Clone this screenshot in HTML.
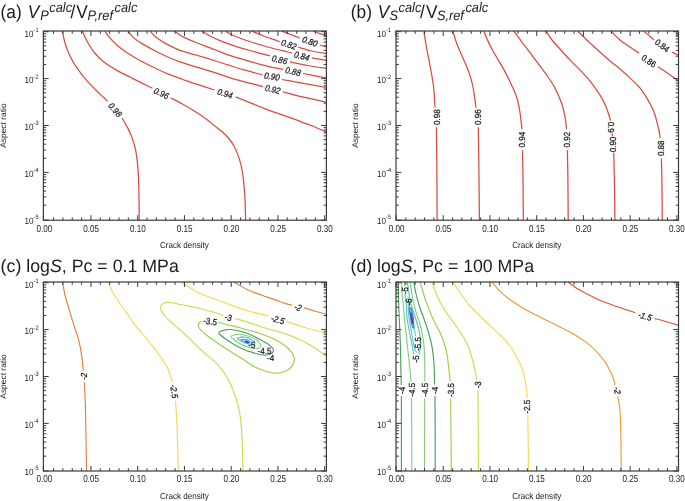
<!DOCTYPE html>
<html><head><meta charset="utf-8"><style>
html,body{margin:0;padding:0;background:#fff;width:685px;height:501px;overflow:hidden}
svg{display:block;will-change:transform}
text{font-family:"Liberation Sans", sans-serif;fill:#1c1c1c;text-rendering:geometricPrecision}
</style></head><body>
<svg width="685" height="501" viewBox="0 0 685 501">
<rect width="685" height="501" fill="#fff"/>
<path d="M62.40,31.20C62.83,33.17 63.73,38.87 65.00,43.00C66.27,47.13 68.02,51.85 70.00,56.00C71.98,60.15 73.92,63.58 76.90,67.90C79.88,72.22 84.07,77.57 87.90,81.90C91.73,86.23 96.62,90.68 99.90,93.90C103.18,97.12 106.32,99.98 107.60,101.20M122.30,118.40C122.98,119.58 125.02,122.92 126.40,125.50C127.78,128.08 129.20,130.42 130.60,133.90C132.00,137.38 133.68,141.87 134.80,146.40C135.92,150.93 136.68,155.85 137.30,161.10C137.92,166.35 138.22,171.60 138.50,177.90C138.78,184.20 138.88,191.85 139.00,198.90C139.12,205.95 139.17,216.65 139.20,220.20" stroke="#d94b40" stroke-width="1.25" fill="none" stroke-linejoin="round" stroke-linecap="butt"/>
<path d="M82.50,31.20C83.23,32.83 85.00,37.53 86.90,41.00C88.80,44.47 91.07,48.50 93.90,52.00C96.73,55.50 99.92,58.85 103.90,62.00C107.88,65.15 113.48,68.40 117.80,70.90C122.12,73.40 125.78,74.97 129.80,77.00C133.82,79.03 138.48,81.38 141.90,83.10C145.32,84.82 148.53,86.43 150.30,87.30C152.07,88.17 152.13,88.13 152.50,88.30M170.50,97.80C172.40,98.80 178.00,101.63 181.90,103.80C185.80,105.97 189.90,108.30 193.90,110.80C197.90,113.30 202.25,116.13 205.90,118.80C209.55,121.47 213.15,124.68 215.80,126.80C218.45,128.92 219.77,129.72 221.80,131.50C223.83,133.28 225.97,135.08 228.00,137.50C230.03,139.92 232.17,142.60 234.00,146.00C235.83,149.40 237.60,153.58 239.00,157.90C240.40,162.22 241.53,166.90 242.40,171.90C243.27,176.90 243.75,182.92 244.20,187.90C244.65,192.88 244.87,196.42 245.10,201.80C245.33,207.18 245.52,217.13 245.60,220.20" stroke="#d94b40" stroke-width="1.25" fill="none" stroke-linejoin="round" stroke-linecap="butt"/>
<path d="M104.80,31.20C105.60,32.27 107.40,35.13 109.60,37.60C111.80,40.07 115.02,43.42 118.00,46.00C120.98,48.58 123.92,50.72 127.50,53.10C131.08,55.48 135.10,57.90 139.50,60.30C143.90,62.70 149.10,65.20 153.90,67.50C158.70,69.80 163.95,72.30 168.30,74.10C172.65,75.90 177.07,77.22 180.00,78.30C182.93,79.38 182.25,79.33 185.90,80.60C189.55,81.87 197.13,84.33 201.90,85.90C206.67,87.47 212.40,89.32 214.50,90.00M235.60,96.90C237.67,97.73 242.62,99.75 248.00,101.90C253.38,104.05 261.25,107.32 267.90,109.80C274.55,112.28 281.92,114.63 287.90,116.80C293.88,118.97 299.48,121.18 303.80,122.80C308.12,124.42 310.47,125.13 313.80,126.50C317.13,127.87 321.70,130.05 323.80,131.00C325.90,131.95 325.97,132.00 326.40,132.20" stroke="#d94b40" stroke-width="1.25" fill="none" stroke-linejoin="round" stroke-linecap="butt"/>
<path d="M128.10,31.20C129.00,32.27 131.20,35.53 133.50,37.60C135.80,39.67 138.50,41.50 141.90,43.60C145.30,45.70 149.70,48.02 153.90,50.20C158.10,52.38 162.75,54.77 167.10,56.70C171.45,58.63 175.20,60.10 180.00,61.80C184.80,63.50 189.93,65.05 195.90,66.90C201.87,68.75 210.45,71.18 215.80,72.90C221.15,74.62 223.97,75.90 228.00,77.20C232.03,78.50 236.00,79.62 240.00,80.70C244.00,81.78 248.17,82.72 252.00,83.70C255.83,84.68 261.17,86.12 263.00,86.60M282.90,91.90C285.40,92.57 293.08,94.73 297.90,95.90C302.72,97.07 307.05,97.83 311.80,98.90C316.55,99.97 323.97,101.73 326.40,102.30" stroke="#d94b40" stroke-width="1.25" fill="none" stroke-linejoin="round" stroke-linecap="butt"/>
<path d="M150.30,31.20C151.30,32.27 153.70,35.53 156.30,37.60C158.90,39.67 161.95,41.48 165.90,43.60C169.85,45.72 175.00,48.40 180.00,50.30C185.00,52.20 189.93,53.22 195.90,55.00C201.87,56.78 210.45,59.35 215.80,61.00C221.15,62.65 223.30,63.42 228.00,64.90C232.70,66.38 238.25,68.23 244.00,69.90C249.75,71.57 259.42,74.07 262.50,74.90M281.90,79.50C284.57,79.97 292.92,81.40 297.90,82.30C302.88,83.20 307.05,84.03 311.80,84.90C316.55,85.77 323.97,87.07 326.40,87.50" stroke="#d94b40" stroke-width="1.25" fill="none" stroke-linejoin="round" stroke-linecap="butt"/>
<path d="M174.90,31.20C175.75,31.87 178.50,34.18 180.00,35.20C181.50,36.22 181.25,36.08 183.90,37.30C186.55,38.52 190.58,40.38 195.90,42.50C201.22,44.62 210.45,47.93 215.80,50.00C221.15,52.07 222.63,53.08 228.00,54.90C233.37,56.72 241.35,59.00 248.00,60.90C254.65,62.80 262.03,64.90 267.90,66.30C273.77,67.70 280.65,68.80 283.20,69.30M303.00,73.50C304.80,73.85 309.90,74.87 313.80,75.60C317.70,76.33 324.30,77.52 326.40,77.90" stroke="#d94b40" stroke-width="1.25" fill="none" stroke-linejoin="round" stroke-linecap="butt"/>
<path d="M201.90,31.20C203.23,32.00 206.58,34.32 209.90,36.00C213.22,37.68 217.48,39.58 221.80,41.30C226.12,43.02 231.43,44.85 235.80,46.30C240.17,47.75 243.97,48.83 248.00,50.00C252.03,51.17 256.33,52.33 260.00,53.30C263.67,54.27 268.33,55.38 270.00,55.80M289.90,61.90C292.88,62.50 301.72,64.40 307.80,65.50C313.88,66.60 323.30,68.00 326.40,68.50" stroke="#d94b40" stroke-width="1.25" fill="none" stroke-linejoin="round" stroke-linecap="butt"/>
<path d="M225.80,31.20C226.17,31.43 226.33,31.72 228.00,32.60C229.67,33.48 232.47,35.10 235.80,36.50C239.13,37.90 242.65,39.25 248.00,41.00C253.35,42.75 261.25,45.17 267.90,47.00C274.55,48.83 283.88,51.00 287.90,52.00C291.92,53.00 291.32,52.83 292.00,53.00M311.80,57.90L326.40,60.30" stroke="#d94b40" stroke-width="1.25" fill="none" stroke-linejoin="round" stroke-linecap="butt"/>
<path d="M252.00,31.20C253.98,32.00 259.58,34.37 263.90,36.00C268.22,37.63 275.22,40.03 277.90,41.00C280.58,41.97 279.65,41.67 280.00,41.80M297.90,47.00C300.22,47.67 307.05,49.92 311.80,51.00C316.55,52.08 323.97,53.08 326.40,53.50" stroke="#d94b40" stroke-width="1.25" fill="none" stroke-linejoin="round" stroke-linecap="butt"/>
<path d="M281.90,31.20C283.57,31.83 288.88,33.87 291.90,35.00C294.92,36.13 298.65,37.50 300.00,38.00M319.80,45.00L326.40,47.00" stroke="#d94b40" stroke-width="1.25" fill="none" stroke-linejoin="round" stroke-linecap="butt"/>
<path d="M313.80,31.20C314.83,31.60 317.90,32.80 320.00,33.60C322.10,34.40 325.33,35.60 326.40,36.00" stroke="#d94b40" stroke-width="1.25" fill="none" stroke-linejoin="round" stroke-linecap="butt"/>
<path d="M423.90,31.20C424.23,33.33 425.07,39.22 425.90,44.00C426.73,48.78 427.90,54.58 428.90,59.90C429.90,65.22 431.07,70.90 431.90,75.90C432.73,80.90 433.40,84.92 433.90,89.90C434.40,94.88 434.68,102.90 434.90,105.80C435.12,108.70 435.15,107.05 435.20,107.30M436.40,127.30C436.47,132.75 436.68,144.52 436.80,160.00C436.92,175.48 437.05,210.17 437.10,220.20" stroke="#d94b40" stroke-width="1.25" fill="none" stroke-linejoin="round" stroke-linecap="butt"/>
<path d="M452.90,31.20C453.57,33.33 455.23,39.55 456.90,44.00C458.57,48.45 460.92,53.25 462.90,57.90C464.88,62.55 467.15,67.23 468.80,71.90C470.45,76.57 471.63,80.25 472.80,85.90C473.97,91.55 475.25,102.23 475.80,105.80C476.35,109.37 476.05,107.05 476.10,107.30M478.30,127.30C478.38,132.75 478.62,144.52 478.80,160.00C478.98,175.48 479.30,210.17 479.40,220.20" stroke="#d94b40" stroke-width="1.25" fill="none" stroke-linejoin="round" stroke-linecap="butt"/>
<path d="M483.80,31.20C484.33,32.50 485.47,35.70 487.00,39.00C488.53,42.30 490.17,45.85 493.00,51.00C495.83,56.15 500.83,64.08 504.00,69.90C507.17,75.72 509.85,81.23 512.00,85.90C514.15,90.57 515.58,93.58 516.90,97.90C518.22,102.22 519.13,107.28 519.90,111.80C520.67,116.32 521.17,122.10 521.50,125.00C521.83,127.90 521.83,128.50 521.90,129.20M522.50,149.90C522.58,154.92 522.87,168.28 523.00,180.00C523.13,191.72 523.25,213.50 523.30,220.20" stroke="#d94b40" stroke-width="1.25" fill="none" stroke-linejoin="round" stroke-linecap="butt"/>
<path d="M513.90,31.20C515.23,33.00 518.57,37.55 521.90,42.00C525.23,46.45 529.90,52.58 533.90,57.90C537.90,63.22 542.40,68.90 545.90,73.90C549.40,78.90 552.25,82.92 554.90,87.90C557.55,92.88 560.15,99.15 561.80,103.80C563.45,108.45 564.13,112.77 564.80,115.80C565.47,118.83 565.52,119.77 565.80,122.00C566.08,124.23 566.38,128.00 566.50,129.20M567.40,149.90C567.48,154.92 567.77,168.28 567.90,180.00C568.03,191.72 568.15,213.50 568.20,220.20" stroke="#d94b40" stroke-width="1.25" fill="none" stroke-linejoin="round" stroke-linecap="butt"/>
<path d="M546.00,31.20C547.00,32.67 549.67,37.03 552.00,40.00C554.33,42.97 557.02,45.68 560.00,49.00C562.98,52.32 566.58,56.42 569.90,59.90C573.22,63.38 576.57,66.40 579.90,69.90C583.23,73.40 586.90,77.23 589.90,80.90C592.90,84.57 595.57,88.40 597.90,91.90C600.23,95.40 602.23,98.58 603.90,101.90C605.57,105.22 606.90,109.03 607.90,111.80C608.90,114.57 609.50,117.03 609.90,118.50C610.30,119.97 610.23,120.25 610.30,120.60M612.20,133.30L612.50,136.40M613.70,152.50C613.78,155.42 614.03,162.08 614.20,170.00C614.37,177.92 614.58,191.63 614.70,200.00C614.82,208.37 614.87,216.83 614.90,220.20" stroke="#d94b40" stroke-width="1.25" fill="none" stroke-linejoin="round" stroke-linecap="butt"/>
<path d="M577.90,31.20C579.57,32.83 584.23,37.53 587.90,41.00C591.57,44.47 596.22,48.68 599.90,52.00C603.58,55.32 606.65,58.08 610.00,60.90C613.35,63.72 616.68,66.07 620.00,68.90C623.32,71.73 626.58,74.73 629.90,77.90C633.22,81.07 636.90,84.23 639.90,87.90C642.90,91.57 645.57,95.92 647.90,99.90C650.23,103.88 652.23,107.48 653.90,111.80C655.57,116.12 656.95,122.10 657.90,125.80C658.85,129.50 659.23,131.93 659.60,134.00C659.97,136.07 660.02,137.50 660.10,138.20M661.40,158.60C661.48,162.17 661.75,169.73 661.90,180.00C662.05,190.27 662.23,213.50 662.30,220.20" stroke="#d94b40" stroke-width="1.25" fill="none" stroke-linejoin="round" stroke-linecap="butt"/>
<path d="M611.00,31.20C612.50,32.67 616.85,37.37 620.00,40.00C623.15,42.63 626.75,44.83 629.90,47.00C633.05,49.17 637.40,52.00 638.90,53.00M657.90,66.90C659.23,67.73 662.92,69.90 665.90,71.90C668.88,73.90 673.70,77.45 675.80,78.90C677.90,80.35 678.05,80.32 678.50,80.60" stroke="#d94b40" stroke-width="1.25" fill="none" stroke-linejoin="round" stroke-linecap="butt"/>
<path d="M643.90,31.20C645.40,32.50 651.22,37.53 652.90,39.00C654.58,40.47 653.82,39.83 654.00,40.00M671.90,52.00C672.72,52.42 675.70,53.92 676.80,54.50C677.90,55.08 678.22,55.33 678.50,55.50" stroke="#d94b40" stroke-width="1.25" fill="none" stroke-linejoin="round" stroke-linecap="butt"/>
<path d="M62.60,282.20C63.00,284.33 63.95,290.55 65.00,295.00C66.05,299.45 67.42,303.92 68.90,308.90C70.38,313.88 72.23,319.57 73.90,324.90C75.57,330.23 77.57,335.58 78.90,340.90C80.23,346.22 81.18,351.85 81.90,356.80C82.62,361.75 82.98,368.30 83.20,370.60M84.30,382.00C84.47,385.50 85.03,394.52 85.30,403.00C85.57,411.48 85.70,421.57 85.90,432.90C86.10,444.23 86.40,464.65 86.50,471.00" stroke="#ea7d3a" stroke-width="1.15" fill="none" stroke-linejoin="round" stroke-linecap="butt"/>
<path d="M234.00,282.20C235.00,282.75 237.68,284.20 240.00,285.50C242.32,286.80 244.23,288.38 247.90,290.00C251.57,291.62 257.65,293.63 262.00,295.20C266.35,296.77 270.02,298.00 274.00,299.40C277.98,300.80 282.92,302.67 285.90,303.60C288.88,304.53 290.90,304.77 291.90,305.00M303.90,307.90C305.50,308.37 309.75,309.63 313.50,310.70C317.25,311.77 324.25,313.70 326.40,314.30" stroke="#ea7d3a" stroke-width="1.15" fill="none" stroke-linejoin="round" stroke-linecap="butt"/>
<path d="M108.90,282.20C109.40,283.67 110.08,287.50 111.90,291.00C113.72,294.50 116.82,298.78 119.80,303.20C122.78,307.62 127.43,314.05 129.80,317.50C132.17,320.95 131.63,320.90 134.00,323.90C136.37,326.90 140.67,331.50 144.00,335.50C147.33,339.50 151.02,344.02 154.00,347.90C156.98,351.78 159.58,355.32 161.90,358.80C164.22,362.28 166.18,364.98 167.90,368.80C169.62,372.62 171.48,379.55 172.20,381.70M175.50,400.60C175.73,404.32 176.50,414.20 176.90,422.90C177.30,431.60 177.67,444.78 177.90,452.80C178.13,460.82 178.23,467.97 178.30,471.00" stroke="#f2da56" stroke-width="1.15" fill="none" stroke-linejoin="round" stroke-linecap="butt"/>
<path d="M181.90,282.20C183.90,283.53 190.88,288.32 193.90,290.20C196.92,292.08 196.98,292.20 200.00,293.50C203.02,294.80 208.00,296.50 212.00,298.00C216.00,299.50 220.02,301.02 224.00,302.50C227.98,303.98 231.92,305.52 235.90,306.90C239.88,308.28 243.90,309.63 247.90,310.80C251.90,311.97 256.47,313.03 259.90,313.90C263.33,314.77 267.07,315.65 268.50,316.00M286.50,321.50C288.75,322.25 296.08,324.75 300.00,326.00C303.92,327.25 306.02,327.92 310.00,329.00C313.98,330.08 321.17,331.80 323.90,332.50C326.63,333.20 325.98,333.08 326.40,333.20" stroke="#f2da56" stroke-width="1.15" fill="none" stroke-linejoin="round" stroke-linecap="butt"/>
<path d="M223.00,315.20C221.65,314.75 217.90,313.42 214.90,312.50C211.90,311.58 208.32,310.57 205.00,309.70C201.68,308.83 198.33,308.03 195.00,307.30C191.67,306.57 188.00,305.90 185.00,305.30C182.00,304.70 179.50,304.17 177.00,303.70C174.50,303.23 172.17,302.62 170.00,302.50C167.83,302.38 165.50,302.42 164.00,303.00C162.50,303.58 161.50,304.83 161.00,306.00C160.50,307.17 160.50,308.50 161.00,310.00C161.50,311.50 162.50,313.17 164.00,315.00C165.50,316.83 167.68,318.83 170.00,321.00C172.32,323.17 175.25,325.67 177.90,328.00C180.55,330.33 183.07,332.35 185.90,335.00C188.73,337.65 191.72,340.82 194.90,343.90C198.08,346.98 201.65,350.50 205.00,353.50C208.35,356.50 212.17,359.17 215.00,361.90C217.83,364.63 219.83,367.00 222.00,369.90C224.17,372.80 226.08,375.73 228.00,379.30C229.92,382.87 231.85,387.10 233.50,391.30C235.15,395.50 236.70,399.73 237.90,404.50C239.10,409.27 240.02,414.42 240.70,419.90C241.38,425.38 241.67,431.18 242.00,437.40C242.33,443.62 242.55,451.60 242.70,457.20C242.85,462.80 242.87,468.70 242.90,471.00M234.70,318.50C236.90,319.10 243.68,320.77 247.90,322.10C252.12,323.43 255.65,325.10 260.00,326.50C264.35,327.90 269.83,329.28 274.00,330.50C278.17,331.72 282.33,332.98 285.00,333.80C287.67,334.62 287.50,334.40 290.00,335.40C292.50,336.40 296.67,338.20 300.00,339.80C303.33,341.40 307.02,343.30 310.00,345.00C312.98,346.70 315.58,348.43 317.90,350.00C320.22,351.57 322.48,353.32 323.90,354.40C325.32,355.48 325.98,356.15 326.40,356.50" stroke="#c6df4c" stroke-width="1.15" fill="none" stroke-linejoin="round" stroke-linecap="butt"/>
<path d="M218.00,322.30C219.67,322.72 224.50,323.93 228.00,324.80C231.50,325.67 235.33,326.55 239.00,327.50C242.67,328.45 246.50,329.50 250.00,330.50C253.50,331.50 256.67,332.37 260.00,333.50C263.33,334.63 266.68,335.85 270.00,337.30C273.32,338.75 276.92,340.42 279.90,342.20C282.88,343.98 285.78,346.03 287.90,348.00C290.02,349.97 291.52,352.17 292.60,354.00C293.68,355.83 294.35,357.18 294.40,359.00C294.45,360.82 293.98,363.08 292.90,364.90C291.82,366.72 290.05,368.60 287.90,369.90C285.75,371.20 282.48,372.18 280.00,372.70C277.52,373.22 275.50,373.28 273.00,373.00C270.50,372.72 268.00,372.00 265.00,371.00C262.00,370.00 258.35,368.75 255.00,367.00C251.65,365.25 248.25,362.62 244.90,360.50C241.55,358.38 238.22,356.38 234.90,354.30C231.58,352.22 228.32,350.18 225.00,348.00C221.68,345.82 218.33,343.53 215.00,341.20C211.67,338.87 207.58,336.12 205.00,334.00C202.42,331.88 200.58,330.17 199.50,328.50C198.42,326.83 198.17,325.20 198.50,324.00C198.83,322.80 201.00,321.75 201.50,321.30" stroke="#9cd040" stroke-width="1.15" fill="none" stroke-linejoin="round" stroke-linecap="butt"/>
<path d="M219.30,332.00C220.13,331.25 223.22,330.42 225.00,330.00C226.78,329.58 227.62,329.33 230.00,329.50C232.38,329.67 235.97,330.17 239.30,331.00C242.63,331.83 246.55,333.08 250.00,334.50C253.45,335.92 257.00,337.92 260.00,339.50C263.00,341.08 265.92,342.58 268.00,344.00C270.08,345.42 271.58,346.93 272.50,348.00C273.42,349.07 273.67,349.48 273.50,350.40C273.33,351.32 272.92,352.70 271.50,353.50C270.08,354.30 267.75,355.23 265.00,355.20C262.25,355.17 257.72,353.97 255.00,353.30C252.28,352.63 250.38,351.75 248.70,351.20C247.02,350.65 247.20,351.03 244.90,350.00C242.60,348.97 238.22,346.92 234.90,345.00C231.58,343.08 227.48,340.25 225.00,338.50C222.52,336.75 220.95,335.58 220.00,334.50C219.05,333.42 218.47,332.75 219.30,332.00Z" stroke="#47a060" stroke-width="1.15" fill="none" stroke-linejoin="round" stroke-linecap="butt"/>
<path d="M231.00,336.40C231.05,335.50 233.62,335.15 235.00,334.80C236.38,334.45 237.02,334.07 239.30,334.30C241.58,334.53 246.08,335.42 248.70,336.20C251.32,336.98 253.37,338.07 255.00,339.00C256.63,339.93 257.48,340.63 258.50,341.80C259.52,342.97 261.18,344.88 261.10,346.00C261.02,347.12 259.28,348.10 258.00,348.50C256.72,348.90 255.73,348.88 253.40,348.40C251.07,347.92 247.12,346.97 244.00,345.60C240.88,344.23 236.87,341.73 234.70,340.20C232.53,338.67 230.95,337.30 231.00,336.40Z" stroke="#84d07c" stroke-width="1.15" fill="none" stroke-linejoin="round" stroke-linecap="butt"/>
<path d="M237.50,338.30C237.38,337.62 239.92,337.40 241.00,337.20C242.08,337.00 242.83,336.97 244.00,337.10C245.17,337.23 246.83,337.60 248.00,338.00C249.17,338.40 250.00,338.92 251.00,339.50C252.00,340.08 253.37,340.80 254.00,341.50C254.63,342.20 255.22,343.18 254.80,343.70C254.38,344.22 252.52,344.53 251.50,344.60C250.48,344.67 250.33,344.65 248.70,344.10C247.07,343.55 243.57,342.27 241.70,341.30C239.83,340.33 237.62,338.98 237.50,338.30Z" stroke="#66cce0" stroke-width="1.38" fill="none" stroke-linejoin="round" stroke-linecap="butt"/>
<path d="M240.60,340.00C240.52,339.58 242.02,339.35 243.00,339.30C243.98,339.25 245.42,339.40 246.50,339.70C247.58,340.00 248.90,340.58 249.50,341.10C250.10,341.62 250.43,342.47 250.10,342.80C249.77,343.13 248.60,343.27 247.50,343.10C246.40,342.93 244.65,342.32 243.50,341.80C242.35,341.28 240.68,340.42 240.60,340.00Z" stroke="#4f86e0" stroke-width="1.00" fill="#b8d4f4" stroke-linejoin="round" stroke-linecap="butt"/>
<path d="M245.40,341.10C245.58,340.88 246.73,341.05 247.30,341.20C247.87,341.35 248.65,341.73 248.80,342.00C248.95,342.27 248.63,342.72 248.20,342.80C247.77,342.88 246.67,342.78 246.20,342.50C245.73,342.22 245.22,341.32 245.40,341.10Z" stroke="#2a44c0" stroke-width="0.75" fill="#2a44c0" stroke-linejoin="round" stroke-linecap="butt"/>
<path d="M568.30,282.20C570.05,283.43 575.58,287.60 578.80,289.60C582.02,291.60 584.73,292.73 587.60,294.20C590.47,295.67 593.08,297.05 596.00,298.40C598.92,299.75 601.93,301.03 605.10,302.30C608.27,303.57 611.53,304.78 615.00,306.00C618.47,307.22 622.50,308.48 625.90,309.60C629.30,310.72 633.82,312.18 635.40,312.70M654.60,318.50C656.60,319.03 662.62,320.57 666.60,321.70C670.58,322.83 676.52,324.70 678.50,325.30" stroke="#e2552e" stroke-width="1.15" fill="none" stroke-linejoin="round" stroke-linecap="butt"/>
<path d="M492.30,282.20C493.17,283.27 495.75,286.65 497.50,288.60C499.25,290.55 501.05,292.28 502.80,293.90C504.55,295.52 505.97,296.77 508.00,298.30C510.03,299.83 512.67,301.57 515.00,303.10C517.33,304.63 519.67,306.12 522.00,307.50C524.33,308.88 526.83,310.23 529.00,311.40C531.17,312.57 532.53,313.25 535.00,314.50C537.47,315.75 540.88,317.43 543.80,318.90C546.72,320.37 549.58,321.83 552.50,323.30C555.42,324.77 558.38,326.25 561.30,327.70C564.22,329.15 567.08,330.40 570.00,332.00C572.92,333.60 575.87,335.40 578.80,337.30C581.73,339.20 584.68,341.07 587.60,343.40C590.52,345.73 593.38,348.23 596.30,351.30C599.22,354.37 602.90,358.68 605.10,361.80C607.30,364.92 608.23,367.55 609.50,370.00C610.77,372.45 611.75,374.00 612.70,376.50C613.65,379.00 614.78,383.58 615.20,385.00M617.90,396.50C618.22,398.50 619.33,403.35 619.80,408.50C620.27,413.65 620.45,416.98 620.70,427.40C620.95,437.82 621.20,463.73 621.30,471.00" stroke="#f09a34" stroke-width="1.15" fill="none" stroke-linejoin="round" stroke-linecap="butt"/>
<path d="M453.00,282.20C454.17,283.92 457.18,288.53 460.00,292.50C462.82,296.47 465.98,301.50 469.90,306.00C473.82,310.50 478.82,315.00 483.50,319.50C488.18,324.00 493.83,328.92 498.00,333.00C502.17,337.08 505.42,340.08 508.50,344.00C511.58,347.92 514.33,352.67 516.50,356.50C518.67,360.33 520.15,363.42 521.50,367.00C522.85,370.58 523.75,374.18 524.60,378.00C525.45,381.82 526.15,386.57 526.60,389.90C527.05,393.23 527.18,396.65 527.30,398.00M527.80,415.30C527.87,419.42 528.10,430.72 528.20,440.00C528.30,449.28 528.37,465.83 528.40,471.00" stroke="#f2da56" stroke-width="1.15" fill="none" stroke-linejoin="round" stroke-linecap="butt"/>
<path d="M432.50,282.20C432.65,282.83 432.62,283.70 433.40,286.00C434.18,288.30 435.73,292.67 437.20,296.00C438.67,299.33 440.40,302.83 442.20,306.00C444.00,309.17 446.03,312.17 448.00,315.00C449.97,317.83 452.08,320.33 454.00,323.00C455.92,325.67 457.83,328.50 459.50,331.00C461.17,333.50 462.67,335.67 464.00,338.00C465.33,340.33 466.47,342.67 467.50,345.00C468.53,347.33 469.37,349.50 470.20,352.00C471.03,354.50 471.78,357.33 472.50,360.00C473.22,362.67 473.92,365.50 474.50,368.00C475.08,370.50 475.62,373.08 476.00,375.00C476.38,376.92 476.67,378.75 476.80,379.50M477.90,390.50C477.97,398.75 478.20,426.58 478.30,440.00C478.40,453.42 478.47,465.83 478.50,471.00" stroke="#c6df4c" stroke-width="1.15" fill="none" stroke-linejoin="round" stroke-linecap="butt"/>
<path d="M420.30,282.20C420.75,283.83 422.05,288.75 423.00,292.00C423.95,295.25 425.20,299.37 426.00,301.70C426.80,304.03 426.87,303.62 427.80,306.00C428.73,308.38 430.12,312.67 431.60,316.00C433.08,319.33 435.05,322.67 436.70,326.00C438.35,329.33 440.12,332.67 441.50,336.00C442.88,339.33 444.03,342.67 445.00,346.00C445.97,349.33 446.72,352.67 447.30,356.00C447.88,359.33 448.02,361.75 448.50,366.00C448.98,370.25 449.92,378.92 450.20,381.50M450.60,398.50C450.68,405.92 451.00,430.92 451.10,443.00C451.20,455.08 451.18,466.33 451.20,471.00" stroke="#9cd040" stroke-width="1.15" fill="none" stroke-linejoin="round" stroke-linecap="butt"/>
<path d="M413.80,282.20C414.13,284.00 415.08,289.75 415.80,293.00C416.52,296.25 417.50,299.53 418.10,301.70C418.70,303.87 418.60,303.62 419.40,306.00C420.20,308.38 421.72,312.67 422.90,316.00C424.08,319.33 425.40,322.67 426.50,326.00C427.60,329.33 428.60,332.67 429.50,336.00C430.40,339.33 431.27,342.67 431.90,346.00C432.53,349.33 432.93,352.67 433.30,356.00C433.67,359.33 433.88,361.25 434.10,366.00C434.32,370.75 434.52,381.42 434.60,384.50M435.00,396.00C435.03,403.83 435.17,430.50 435.20,443.00C435.23,455.50 435.20,466.33 435.20,471.00" stroke="#47a060" stroke-width="1.15" fill="none" stroke-linejoin="round" stroke-linecap="butt"/>
<path d="M410.30,282.20C410.62,284.50 411.53,292.03 412.20,296.00C412.87,299.97 413.45,302.67 414.30,306.00C415.15,309.33 416.27,312.67 417.30,316.00C418.33,319.33 419.62,322.67 420.50,326.00C421.38,329.33 422.02,332.67 422.60,336.00C423.18,339.33 423.65,342.00 424.00,346.00C424.35,350.00 424.57,354.08 424.70,360.00C424.83,365.92 424.78,377.92 424.80,381.50M424.70,398.00C424.67,405.50 424.53,430.83 424.50,443.00C424.47,455.17 424.50,466.33 424.50,471.00" stroke="#84d07c" stroke-width="1.15" fill="none" stroke-linejoin="round" stroke-linecap="butt"/>
<path d="M398.30,282.20C398.33,285.17 398.35,294.37 398.50,300.00C398.65,305.63 399.02,311.67 399.20,316.00C399.38,320.33 399.40,321.00 399.60,326.00C399.80,331.00 400.20,339.33 400.40,346.00C400.60,352.67 400.65,359.50 400.80,366.00C400.95,372.50 401.22,381.83 401.30,385.00M401.40,396.00C401.40,403.83 401.40,430.50 401.40,443.00C401.40,455.50 401.40,466.33 401.40,471.00" stroke="#47a060" stroke-width="1.15" fill="none" stroke-linejoin="round" stroke-linecap="butt"/>
<path d="M401.50,282.20C401.63,284.50 401.98,292.03 402.30,296.00C402.62,299.97 403.08,302.67 403.40,306.00C403.72,309.33 403.90,312.67 404.20,316.00C404.50,319.33 404.67,321.00 405.20,326.00C405.73,331.00 406.67,339.33 407.40,346.00C408.13,352.67 409.00,360.08 409.60,366.00C410.20,371.92 410.77,378.92 411.00,381.50M411.50,398.00C411.55,405.50 411.75,430.83 411.80,443.00C411.85,455.17 411.80,466.33 411.80,471.00" stroke="#84d07c" stroke-width="1.15" fill="none" stroke-linejoin="round" stroke-linecap="butt"/>
<path d="M404.60,282.20L404.70,286.30M405.00,294.20C405.25,296.17 406.20,302.37 406.50,306.00C406.80,309.63 406.50,312.67 406.80,316.00C407.10,319.33 407.73,322.67 408.30,326.00C408.87,329.33 409.53,332.67 410.20,336.00C410.87,339.33 411.73,342.92 412.30,346.00C412.87,349.08 413.38,353.08 413.60,354.50M418.90,354.50C419.18,352.92 420.45,348.25 420.60,345.00C420.75,341.75 420.27,338.17 419.80,335.00C419.33,331.83 418.62,329.17 417.80,326.00C416.98,322.83 415.95,319.33 414.90,316.00C413.85,312.67 412.42,309.33 411.50,306.00C410.58,302.67 410.08,299.97 409.40,296.00C408.72,292.03 407.73,284.50 407.40,282.20" stroke="#6cc8b4" stroke-width="1.25" fill="none" stroke-linejoin="round" stroke-linecap="butt"/>
<path d="M415.50,336.00C415.22,334.33 414.52,329.33 413.80,326.00C413.08,322.67 411.97,319.33 411.20,316.00C410.43,312.67 409.70,308.83 409.20,306.00C408.70,303.17 408.43,300.58 408.20,299.00C407.97,297.42 407.87,296.92 407.80,296.50M408.20,304.50C408.30,306.42 408.43,312.42 408.80,316.00C409.17,319.58 409.87,322.67 410.40,326.00C410.93,329.33 411.47,333.00 412.00,336.00C412.53,339.00 413.05,341.58 413.60,344.00C414.15,346.42 414.70,349.08 415.30,350.50C415.90,351.92 416.88,352.17 417.20,352.50" stroke="#66cce0" stroke-width="1.25" fill="none" stroke-linejoin="round" stroke-linecap="butt"/>
<path d="M409.40,309.00C409.42,307.58 409.93,307.42 410.30,307.50C410.67,307.58 411.15,308.08 411.60,309.50C412.05,310.92 412.63,313.58 413.00,316.00C413.37,318.42 413.70,322.00 413.80,324.00C413.90,326.00 413.80,327.42 413.60,328.00C413.40,328.58 412.97,328.33 412.60,327.50C412.23,326.67 411.80,324.92 411.40,323.00C411.00,321.08 410.53,318.33 410.20,316.00C409.87,313.67 409.38,310.42 409.40,309.00Z" stroke="#3d6ad6" stroke-width="1.00" fill="#8fb4ec" stroke-linejoin="round" stroke-linecap="butt"/>
<path d="M410.80,313.00C410.82,312.08 411.15,312.67 411.40,313.50C411.65,314.33 412.10,316.42 412.30,318.00C412.50,319.58 412.63,322.08 412.60,323.00C412.57,323.92 412.32,324.17 412.10,323.50C411.88,322.83 411.52,320.75 411.30,319.00C411.08,317.25 410.78,313.92 410.80,313.00Z" stroke="#2c48c4" stroke-width="0.75" fill="#2c48c4" stroke-linejoin="round" stroke-linecap="butt"/>
<text transform="translate(115.20,109.80) rotate(49) scale(1,1.1)" y="2.88" text-anchor="middle" font-size="8" font-style="italic" fill="#111" stroke="#111" stroke-width="0.22">0.98</text>
<text transform="translate(161.40,93.20) rotate(26) scale(1,1.1)" y="2.88" text-anchor="middle" font-size="8" font-style="italic" fill="#111" stroke="#111" stroke-width="0.22">0.96</text>
<text transform="translate(225.00,93.40) rotate(17) scale(1,1.1)" y="2.88" text-anchor="middle" font-size="8" font-style="italic" fill="#111" stroke="#111" stroke-width="0.22">0.94</text>
<text transform="translate(272.90,89.20) rotate(14) scale(1,1.1)" y="2.88" text-anchor="middle" font-size="8" font-style="italic" fill="#111" stroke="#111" stroke-width="0.22">0.92</text>
<text transform="translate(271.90,76.40) rotate(10) scale(1,1.1)" y="2.88" text-anchor="middle" font-size="8" font-style="italic" fill="#111" stroke="#111" stroke-width="0.22">0.90</text>
<text transform="translate(293.10,71.40) rotate(13) scale(1,1.1)" y="2.88" text-anchor="middle" font-size="8" font-style="italic" fill="#111" stroke="#111" stroke-width="0.22">0.88</text>
<text transform="translate(279.60,59.60) rotate(13) scale(1,1.1)" y="2.88" text-anchor="middle" font-size="8" font-style="italic" fill="#111" stroke="#111" stroke-width="0.22">0.86</text>
<text transform="translate(301.90,56.00) rotate(15) scale(1,1.1)" y="2.88" text-anchor="middle" font-size="8" font-style="italic" fill="#111" stroke="#111" stroke-width="0.22">0.84</text>
<text transform="translate(288.90,44.40) rotate(18) scale(1,1.1)" y="2.88" text-anchor="middle" font-size="8" font-style="italic" fill="#111" stroke="#111" stroke-width="0.22">0.82</text>
<text transform="translate(309.90,41.40) rotate(20) scale(1,1.1)" y="2.88" text-anchor="middle" font-size="8" font-style="italic" fill="#111" stroke="#111" stroke-width="0.22">0.80</text>
<text transform="translate(436.60,117.20) rotate(-90) scale(1,1.1)" y="2.88" text-anchor="middle" font-size="8" fill="#111" stroke="#111" stroke-width="0.22">0.98</text>
<text transform="translate(477.70,117.20) rotate(-90) scale(1,1.1)" y="2.88" text-anchor="middle" font-size="8" fill="#111" stroke="#111" stroke-width="0.22">0.96</text>
<text transform="translate(522.30,139.60) rotate(-90) scale(1,1.1)" y="2.88" text-anchor="middle" font-size="8" fill="#111" stroke="#111" stroke-width="0.22">0.94</text>
<text transform="translate(567.20,139.60) rotate(-90) scale(1,1.1)" y="2.88" text-anchor="middle" font-size="8" fill="#111" stroke="#111" stroke-width="0.22">0.92</text>
<text transform="translate(611.40,127.20) rotate(90) scale(1,1.1)" y="2.88" text-anchor="middle" font-size="8" fill="#111" stroke="#111" stroke-width="0.22">0.9</text>
<text transform="translate(613.20,144.50) rotate(-90) scale(1,1.1)" y="2.88" text-anchor="middle" font-size="8" fill="#111" stroke="#111" stroke-width="0.22">0.90</text>
<text transform="translate(660.80,148.30) rotate(-90) scale(1,1.1)" y="2.88" text-anchor="middle" font-size="8" fill="#111" stroke="#111" stroke-width="0.22">0.88</text>
<text transform="translate(648.90,60.90) rotate(33) scale(1,1.1)" y="2.88" text-anchor="middle" font-size="8" fill="#111" stroke="#111" stroke-width="0.22">0.86</text>
<text transform="translate(662.40,45.50) rotate(38) scale(1,1.1)" y="2.88" text-anchor="middle" font-size="8" fill="#111" stroke="#111" stroke-width="0.22">0.84</text>
<text transform="translate(84.10,376.30) rotate(-90) scale(1,1.1)" y="2.88" text-anchor="middle" font-size="8" font-style="italic" fill="#111" stroke="#111" stroke-width="0.22">-2</text>
<text transform="translate(298.00,307.20) rotate(17) scale(1,1.1)" y="2.88" text-anchor="middle" font-size="8" font-style="italic" fill="#111" stroke="#111" stroke-width="0.22">-2</text>
<text transform="translate(174.30,391.30) rotate(82) scale(1,1.1)" y="2.88" text-anchor="middle" font-size="8" font-style="italic" fill="#111" stroke="#111" stroke-width="0.22">-2.5</text>
<text transform="translate(277.90,319.60) rotate(17) scale(1,1.1)" y="2.88" text-anchor="middle" font-size="8" font-style="italic" fill="#111" stroke="#111" stroke-width="0.22">-2.5</text>
<text transform="translate(228.50,317.40) rotate(14) scale(1,1.1)" y="2.88" text-anchor="middle" font-size="8" fill="#111" stroke="#111" stroke-width="0.22">-3</text>
<text transform="translate(210.20,321.20) rotate(8) scale(1,1.1)" y="2.88" text-anchor="middle" font-size="8" fill="#111" stroke="#111" stroke-width="0.22">-3.5</text>
<text transform="translate(270.60,357.80) rotate(0) scale(1,1.1)" y="2.88" text-anchor="middle" font-size="8" fill="#111" stroke="#111" stroke-width="0.22">-4</text>
<text transform="translate(264.50,351.20) rotate(0) scale(1,1.1)" y="2.88" text-anchor="middle" font-size="8" fill="#111" stroke="#111" stroke-width="0.22">-4.5</text>
<text transform="translate(251.80,344.90) rotate(0) scale(1,1.1)" y="2.88" text-anchor="middle" font-size="8" fill="#111" stroke="#111" stroke-width="0.22">-5</text>
<text transform="translate(645.00,316.10) rotate(17) scale(1,1.1)" y="2.88" text-anchor="middle" font-size="8" font-style="italic" fill="#111" stroke="#111" stroke-width="0.22">-1.5</text>
<text transform="translate(617.40,390.40) rotate(82) scale(1,1.1)" y="2.88" text-anchor="middle" font-size="8" font-style="italic" fill="#111" stroke="#111" stroke-width="0.22">-2</text>
<text transform="translate(527.30,406.60) rotate(-90) scale(1,1.1)" y="2.88" text-anchor="middle" font-size="8" fill="#111" stroke="#111" stroke-width="0.22">-2.5</text>
<text transform="translate(477.40,384.80) rotate(-90) scale(1,1.1)" y="2.88" text-anchor="middle" font-size="8" fill="#111" stroke="#111" stroke-width="0.22">-3</text>
<text transform="translate(450.50,390.00) rotate(-90) scale(1,1.1)" y="2.88" text-anchor="middle" font-size="8" fill="#111" stroke="#111" stroke-width="0.22">-3.5</text>
<text transform="translate(435.10,390.40) rotate(-90) scale(1,1.1)" y="2.88" text-anchor="middle" font-size="8" fill="#111" stroke="#111" stroke-width="0.22">-4</text>
<text transform="translate(424.90,389.80) rotate(-90) scale(1,1.1)" y="2.88" text-anchor="middle" font-size="8" fill="#111" stroke="#111" stroke-width="0.22">-4.5</text>
<text transform="translate(411.60,389.80) rotate(-90) scale(1,1.1)" y="2.88" text-anchor="middle" font-size="8" fill="#111" stroke="#111" stroke-width="0.22">-4.5</text>
<text transform="translate(401.60,390.40) rotate(-90) scale(1,1.1)" y="2.88" text-anchor="middle" font-size="8" fill="#111" stroke="#111" stroke-width="0.22">-4</text>
<text transform="translate(404.80,290.50) rotate(-90) scale(1,1.1)" y="2.88" text-anchor="middle" font-size="8" fill="#111" stroke="#111" stroke-width="0.22">-5</text>
<text transform="translate(408.70,302.00) rotate(-90) scale(1,1.1)" y="2.88" text-anchor="middle" font-size="8" fill="#111" stroke="#111" stroke-width="0.22">-6</text>
<text transform="translate(418.20,344.00) rotate(-90) scale(1,1.1)" y="2.88" text-anchor="middle" font-size="8" fill="#111" stroke="#111" stroke-width="0.22">-5.5</text>
<text transform="translate(416.10,358.90) rotate(-90) scale(1,1.1)" y="2.88" text-anchor="middle" font-size="8" fill="#111" stroke="#111" stroke-width="0.22">-5</text>
<path d="M43.40,220.20v-5M43.40,31.00v5M53.55,220.20v-2.8M53.55,31.00v2.8M62.90,220.20v-2.8M62.90,31.00v2.8M72.25,220.20v-2.8M72.25,31.00v2.8M81.60,220.20v-2.8M81.60,31.00v2.8M90.95,220.20v-5M90.95,31.00v5M100.30,220.20v-2.8M100.30,31.00v2.8M109.65,220.20v-2.8M109.65,31.00v2.8M119.00,220.20v-2.8M119.00,31.00v2.8M128.35,220.20v-2.8M128.35,31.00v2.8M137.70,220.20v-5M137.70,31.00v5M147.05,220.20v-2.8M147.05,31.00v2.8M156.40,220.20v-2.8M156.40,31.00v2.8M165.75,220.20v-2.8M165.75,31.00v2.8M175.10,220.20v-2.8M175.10,31.00v2.8M184.45,220.20v-5M184.45,31.00v5M193.80,220.20v-2.8M193.80,31.00v2.8M203.15,220.20v-2.8M203.15,31.00v2.8M212.50,220.20v-2.8M212.50,31.00v2.8M221.85,220.20v-2.8M221.85,31.00v2.8M231.20,220.20v-5M231.20,31.00v5M240.55,220.20v-2.8M240.55,31.00v2.8M249.90,220.20v-2.8M249.90,31.00v2.8M259.25,220.20v-2.8M259.25,31.00v2.8M268.60,220.20v-2.8M268.60,31.00v2.8M277.95,220.20v-5M277.95,31.00v5M287.30,220.20v-2.8M287.30,31.00v2.8M296.65,220.20v-2.8M296.65,31.00v2.8M306.00,220.20v-2.8M306.00,31.00v2.8M315.35,220.20v-2.8M315.35,31.00v2.8M324.70,220.20v-5M324.70,31.00v5M43.40,220.20h5.3M326.40,220.20h-5.3M43.40,205.18h2.8M326.40,205.18h-2.8M43.40,196.92h2.8M326.40,196.92h-2.8M43.40,191.06h2.8M326.40,191.06h-2.8M43.40,186.52h2.8M326.40,186.52h-2.8M43.40,182.80h2.8M326.40,182.80h-2.8M43.40,179.66h2.8M326.40,179.66h-2.8M43.40,176.95h2.8M326.40,176.95h-2.8M43.40,174.55h2.8M326.40,174.55h-2.8M43.40,172.40h5.3M326.40,172.40h-5.3M43.40,158.28h2.8M326.40,158.28h-2.8M43.40,150.02h2.8M326.40,150.02h-2.8M43.40,144.16h2.8M326.40,144.16h-2.8M43.40,139.62h2.8M326.40,139.62h-2.8M43.40,135.90h2.8M326.40,135.90h-2.8M43.40,132.76h2.8M326.40,132.76h-2.8M43.40,130.05h2.8M326.40,130.05h-2.8M43.40,127.65h2.8M326.40,127.65h-2.8M43.40,125.50h5.3M326.40,125.50h-5.3M43.40,111.38h2.8M326.40,111.38h-2.8M43.40,103.12h2.8M326.40,103.12h-2.8M43.40,97.26h2.8M326.40,97.26h-2.8M43.40,92.72h2.8M326.40,92.72h-2.8M43.40,89.00h2.8M326.40,89.00h-2.8M43.40,85.86h2.8M326.40,85.86h-2.8M43.40,83.15h2.8M326.40,83.15h-2.8M43.40,80.75h2.8M326.40,80.75h-2.8M43.40,78.60h5.3M326.40,78.60h-5.3M43.40,64.48h2.8M326.40,64.48h-2.8M43.40,56.22h2.8M326.40,56.22h-2.8M43.40,50.36h2.8M326.40,50.36h-2.8M43.40,45.82h2.8M326.40,45.82h-2.8M43.40,42.10h2.8M326.40,42.10h-2.8M43.40,38.96h2.8M326.40,38.96h-2.8M43.40,36.25h2.8M326.40,36.25h-2.8M43.40,33.85h2.8M326.40,33.85h-2.8M43.40,31.70h5.3M326.40,31.70h-5.3" stroke="#222" stroke-width="0.9" fill="none"/>
<rect x="43.4" y="31.0" width="283.00" height="189.20" stroke="#3a3a3a" stroke-width="1.2" fill="none"/>
<text transform="translate(44.30,231.50) scale(1,1.25)" text-anchor="middle" font-size="8.1">0.00</text>
<text transform="translate(91.05,231.50) scale(1,1.25)" text-anchor="middle" font-size="8.1">0.05</text>
<text transform="translate(137.80,231.50) scale(1,1.25)" text-anchor="middle" font-size="8.1">0.10</text>
<text transform="translate(184.55,231.50) scale(1,1.25)" text-anchor="middle" font-size="8.1">0.15</text>
<text transform="translate(231.30,231.50) scale(1,1.25)" text-anchor="middle" font-size="8.1">0.20</text>
<text transform="translate(278.05,231.50) scale(1,1.25)" text-anchor="middle" font-size="8.1">0.25</text>
<text transform="translate(324.80,231.50) scale(1,1.25)" text-anchor="middle" font-size="8.1">0.30</text>
<text transform="translate(184.40,248.20) scale(1,1.09)" text-anchor="middle" font-size="8.1">Crack density</text>
<text transform="translate(24.50,36.50) scale(1,1.13)" font-size="8.1">10<tspan font-size="5.6" dy="-3.9">-1</tspan></text>
<text transform="translate(24.50,83.00) scale(1,1.13)" font-size="8.1">10<tspan font-size="5.6" dy="-3.9">-2</tspan></text>
<text transform="translate(24.50,129.80) scale(1,1.13)" font-size="8.1">10<tspan font-size="5.6" dy="-3.9">-3</tspan></text>
<text transform="translate(24.50,176.60) scale(1,1.13)" font-size="8.1">10<tspan font-size="5.6" dy="-3.9">-4</tspan></text>
<text transform="translate(24.50,223.50) scale(1,1.13)" font-size="8.1">10<tspan font-size="5.6" dy="-3.9">-5</tspan></text>
<text transform="translate(5.80,125.60) rotate(-90) scale(1.04,1)" text-anchor="middle" font-size="8.1">Aspect ratio</text>
<path d="M396.00,220.20v-5M396.00,31.00v5M405.85,220.20v-2.8M405.85,31.00v2.8M415.19,220.20v-2.8M415.19,31.00v2.8M424.54,220.20v-2.8M424.54,31.00v2.8M433.88,220.20v-2.8M433.88,31.00v2.8M443.23,220.20v-5M443.23,31.00v5M452.58,220.20v-2.8M452.58,31.00v2.8M461.92,220.20v-2.8M461.92,31.00v2.8M471.27,220.20v-2.8M471.27,31.00v2.8M480.61,220.20v-2.8M480.61,31.00v2.8M489.96,220.20v-5M489.96,31.00v5M499.31,220.20v-2.8M499.31,31.00v2.8M508.65,220.20v-2.8M508.65,31.00v2.8M518.00,220.20v-2.8M518.00,31.00v2.8M527.34,220.20v-2.8M527.34,31.00v2.8M536.69,220.20v-5M536.69,31.00v5M546.04,220.20v-2.8M546.04,31.00v2.8M555.38,220.20v-2.8M555.38,31.00v2.8M564.73,220.20v-2.8M564.73,31.00v2.8M574.07,220.20v-2.8M574.07,31.00v2.8M583.42,220.20v-5M583.42,31.00v5M592.77,220.20v-2.8M592.77,31.00v2.8M602.11,220.20v-2.8M602.11,31.00v2.8M611.46,220.20v-2.8M611.46,31.00v2.8M620.80,220.20v-2.8M620.80,31.00v2.8M630.15,220.20v-5M630.15,31.00v5M639.50,220.20v-2.8M639.50,31.00v2.8M648.84,220.20v-2.8M648.84,31.00v2.8M658.19,220.20v-2.8M658.19,31.00v2.8M667.53,220.20v-2.8M667.53,31.00v2.8M676.88,220.20v-5M676.88,31.00v5M396.00,220.20h5.3M678.50,220.20h-5.3M396.00,205.18h2.8M678.50,205.18h-2.8M396.00,196.92h2.8M678.50,196.92h-2.8M396.00,191.06h2.8M678.50,191.06h-2.8M396.00,186.52h2.8M678.50,186.52h-2.8M396.00,182.80h2.8M678.50,182.80h-2.8M396.00,179.66h2.8M678.50,179.66h-2.8M396.00,176.95h2.8M678.50,176.95h-2.8M396.00,174.55h2.8M678.50,174.55h-2.8M396.00,172.40h5.3M678.50,172.40h-5.3M396.00,158.28h2.8M678.50,158.28h-2.8M396.00,150.02h2.8M678.50,150.02h-2.8M396.00,144.16h2.8M678.50,144.16h-2.8M396.00,139.62h2.8M678.50,139.62h-2.8M396.00,135.90h2.8M678.50,135.90h-2.8M396.00,132.76h2.8M678.50,132.76h-2.8M396.00,130.05h2.8M678.50,130.05h-2.8M396.00,127.65h2.8M678.50,127.65h-2.8M396.00,125.50h5.3M678.50,125.50h-5.3M396.00,111.38h2.8M678.50,111.38h-2.8M396.00,103.12h2.8M678.50,103.12h-2.8M396.00,97.26h2.8M678.50,97.26h-2.8M396.00,92.72h2.8M678.50,92.72h-2.8M396.00,89.00h2.8M678.50,89.00h-2.8M396.00,85.86h2.8M678.50,85.86h-2.8M396.00,83.15h2.8M678.50,83.15h-2.8M396.00,80.75h2.8M678.50,80.75h-2.8M396.00,78.60h5.3M678.50,78.60h-5.3M396.00,64.48h2.8M678.50,64.48h-2.8M396.00,56.22h2.8M678.50,56.22h-2.8M396.00,50.36h2.8M678.50,50.36h-2.8M396.00,45.82h2.8M678.50,45.82h-2.8M396.00,42.10h2.8M678.50,42.10h-2.8M396.00,38.96h2.8M678.50,38.96h-2.8M396.00,36.25h2.8M678.50,36.25h-2.8M396.00,33.85h2.8M678.50,33.85h-2.8M396.00,31.70h5.3M678.50,31.70h-5.3" stroke="#222" stroke-width="0.9" fill="none"/>
<rect x="396.0" y="31.0" width="282.50" height="189.20" stroke="#3a3a3a" stroke-width="1.2" fill="none"/>
<text transform="translate(396.60,231.50) scale(1,1.25)" text-anchor="middle" font-size="8.1">0.00</text>
<text transform="translate(443.33,231.50) scale(1,1.25)" text-anchor="middle" font-size="8.1">0.05</text>
<text transform="translate(490.06,231.50) scale(1,1.25)" text-anchor="middle" font-size="8.1">0.10</text>
<text transform="translate(536.79,231.50) scale(1,1.25)" text-anchor="middle" font-size="8.1">0.15</text>
<text transform="translate(583.52,231.50) scale(1,1.25)" text-anchor="middle" font-size="8.1">0.20</text>
<text transform="translate(630.25,231.50) scale(1,1.25)" text-anchor="middle" font-size="8.1">0.25</text>
<text transform="translate(676.98,231.50) scale(1,1.25)" text-anchor="middle" font-size="8.1">0.30</text>
<text transform="translate(536.75,248.20) scale(1,1.09)" text-anchor="middle" font-size="8.1">Crack density</text>
<text transform="translate(377.10,36.50) scale(1,1.13)" font-size="8.1">10<tspan font-size="5.6" dy="-3.9">-1</tspan></text>
<text transform="translate(377.10,83.00) scale(1,1.13)" font-size="8.1">10<tspan font-size="5.6" dy="-3.9">-2</tspan></text>
<text transform="translate(377.10,129.80) scale(1,1.13)" font-size="8.1">10<tspan font-size="5.6" dy="-3.9">-3</tspan></text>
<text transform="translate(377.10,176.60) scale(1,1.13)" font-size="8.1">10<tspan font-size="5.6" dy="-3.9">-4</tspan></text>
<text transform="translate(377.10,223.50) scale(1,1.13)" font-size="8.1">10<tspan font-size="5.6" dy="-3.9">-5</tspan></text>
<text transform="translate(358.40,125.60) rotate(-90) scale(1.04,1)" text-anchor="middle" font-size="8.1">Aspect ratio</text>
<path d="M43.40,471.00v-5M43.40,282.00v5M53.55,471.00v-2.8M53.55,282.00v2.8M62.90,471.00v-2.8M62.90,282.00v2.8M72.25,471.00v-2.8M72.25,282.00v2.8M81.60,471.00v-2.8M81.60,282.00v2.8M90.95,471.00v-5M90.95,282.00v5M100.30,471.00v-2.8M100.30,282.00v2.8M109.65,471.00v-2.8M109.65,282.00v2.8M119.00,471.00v-2.8M119.00,282.00v2.8M128.35,471.00v-2.8M128.35,282.00v2.8M137.70,471.00v-5M137.70,282.00v5M147.05,471.00v-2.8M147.05,282.00v2.8M156.40,471.00v-2.8M156.40,282.00v2.8M165.75,471.00v-2.8M165.75,282.00v2.8M175.10,471.00v-2.8M175.10,282.00v2.8M184.45,471.00v-5M184.45,282.00v5M193.80,471.00v-2.8M193.80,282.00v2.8M203.15,471.00v-2.8M203.15,282.00v2.8M212.50,471.00v-2.8M212.50,282.00v2.8M221.85,471.00v-2.8M221.85,282.00v2.8M231.20,471.00v-5M231.20,282.00v5M240.55,471.00v-2.8M240.55,282.00v2.8M249.90,471.00v-2.8M249.90,282.00v2.8M259.25,471.00v-2.8M259.25,282.00v2.8M268.60,471.00v-2.8M268.60,282.00v2.8M277.95,471.00v-5M277.95,282.00v5M287.30,471.00v-2.8M287.30,282.00v2.8M296.65,471.00v-2.8M296.65,282.00v2.8M306.00,471.00v-2.8M306.00,282.00v2.8M315.35,471.00v-2.8M315.35,282.00v2.8M324.70,471.00v-5M324.70,282.00v5M43.40,471.00h5.3M326.40,471.00h-5.3M43.40,456.18h2.8M326.40,456.18h-2.8M43.40,447.92h2.8M326.40,447.92h-2.8M43.40,442.06h2.8M326.40,442.06h-2.8M43.40,437.52h2.8M326.40,437.52h-2.8M43.40,433.80h2.8M326.40,433.80h-2.8M43.40,430.66h2.8M326.40,430.66h-2.8M43.40,427.95h2.8M326.40,427.95h-2.8M43.40,425.55h2.8M326.40,425.55h-2.8M43.40,423.40h5.3M326.40,423.40h-5.3M43.40,409.28h2.8M326.40,409.28h-2.8M43.40,401.02h2.8M326.40,401.02h-2.8M43.40,395.16h2.8M326.40,395.16h-2.8M43.40,390.62h2.8M326.40,390.62h-2.8M43.40,386.90h2.8M326.40,386.90h-2.8M43.40,383.76h2.8M326.40,383.76h-2.8M43.40,381.05h2.8M326.40,381.05h-2.8M43.40,378.65h2.8M326.40,378.65h-2.8M43.40,376.50h5.3M326.40,376.50h-5.3M43.40,362.38h2.8M326.40,362.38h-2.8M43.40,354.12h2.8M326.40,354.12h-2.8M43.40,348.26h2.8M326.40,348.26h-2.8M43.40,343.72h2.8M326.40,343.72h-2.8M43.40,340.00h2.8M326.40,340.00h-2.8M43.40,336.86h2.8M326.40,336.86h-2.8M43.40,334.15h2.8M326.40,334.15h-2.8M43.40,331.75h2.8M326.40,331.75h-2.8M43.40,329.60h5.3M326.40,329.60h-5.3M43.40,315.48h2.8M326.40,315.48h-2.8M43.40,307.22h2.8M326.40,307.22h-2.8M43.40,301.36h2.8M326.40,301.36h-2.8M43.40,296.82h2.8M326.40,296.82h-2.8M43.40,293.10h2.8M326.40,293.10h-2.8M43.40,289.96h2.8M326.40,289.96h-2.8M43.40,287.25h2.8M326.40,287.25h-2.8M43.40,284.85h2.8M326.40,284.85h-2.8M43.40,282.70h5.3M326.40,282.70h-5.3" stroke="#222" stroke-width="0.9" fill="none"/>
<rect x="43.4" y="282.0" width="283.00" height="189.00" stroke="#3a3a3a" stroke-width="1.2" fill="none"/>
<text transform="translate(44.30,482.30) scale(1,1.25)" text-anchor="middle" font-size="8.1">0.00</text>
<text transform="translate(91.05,482.30) scale(1,1.25)" text-anchor="middle" font-size="8.1">0.05</text>
<text transform="translate(137.80,482.30) scale(1,1.25)" text-anchor="middle" font-size="8.1">0.10</text>
<text transform="translate(184.55,482.30) scale(1,1.25)" text-anchor="middle" font-size="8.1">0.15</text>
<text transform="translate(231.30,482.30) scale(1,1.25)" text-anchor="middle" font-size="8.1">0.20</text>
<text transform="translate(278.05,482.30) scale(1,1.25)" text-anchor="middle" font-size="8.1">0.25</text>
<text transform="translate(324.80,482.30) scale(1,1.25)" text-anchor="middle" font-size="8.1">0.30</text>
<text transform="translate(184.40,499.00) scale(1,1.09)" text-anchor="middle" font-size="8.1">Crack density</text>
<text transform="translate(24.50,287.50) scale(1,1.13)" font-size="8.1">10<tspan font-size="5.6" dy="-3.9">-1</tspan></text>
<text transform="translate(24.50,334.00) scale(1,1.13)" font-size="8.1">10<tspan font-size="5.6" dy="-3.9">-2</tspan></text>
<text transform="translate(24.50,380.80) scale(1,1.13)" font-size="8.1">10<tspan font-size="5.6" dy="-3.9">-3</tspan></text>
<text transform="translate(24.50,427.60) scale(1,1.13)" font-size="8.1">10<tspan font-size="5.6" dy="-3.9">-4</tspan></text>
<text transform="translate(24.50,474.50) scale(1,1.13)" font-size="8.1">10<tspan font-size="5.6" dy="-3.9">-5</tspan></text>
<text transform="translate(5.80,376.50) rotate(-90) scale(1.04,1)" text-anchor="middle" font-size="8.1">Aspect ratio</text>
<path d="M396.00,471.00v-5M396.00,282.00v5M405.85,471.00v-2.8M405.85,282.00v2.8M415.19,471.00v-2.8M415.19,282.00v2.8M424.54,471.00v-2.8M424.54,282.00v2.8M433.88,471.00v-2.8M433.88,282.00v2.8M443.23,471.00v-5M443.23,282.00v5M452.58,471.00v-2.8M452.58,282.00v2.8M461.92,471.00v-2.8M461.92,282.00v2.8M471.27,471.00v-2.8M471.27,282.00v2.8M480.61,471.00v-2.8M480.61,282.00v2.8M489.96,471.00v-5M489.96,282.00v5M499.31,471.00v-2.8M499.31,282.00v2.8M508.65,471.00v-2.8M508.65,282.00v2.8M518.00,471.00v-2.8M518.00,282.00v2.8M527.34,471.00v-2.8M527.34,282.00v2.8M536.69,471.00v-5M536.69,282.00v5M546.04,471.00v-2.8M546.04,282.00v2.8M555.38,471.00v-2.8M555.38,282.00v2.8M564.73,471.00v-2.8M564.73,282.00v2.8M574.07,471.00v-2.8M574.07,282.00v2.8M583.42,471.00v-5M583.42,282.00v5M592.77,471.00v-2.8M592.77,282.00v2.8M602.11,471.00v-2.8M602.11,282.00v2.8M611.46,471.00v-2.8M611.46,282.00v2.8M620.80,471.00v-2.8M620.80,282.00v2.8M630.15,471.00v-5M630.15,282.00v5M639.50,471.00v-2.8M639.50,282.00v2.8M648.84,471.00v-2.8M648.84,282.00v2.8M658.19,471.00v-2.8M658.19,282.00v2.8M667.53,471.00v-2.8M667.53,282.00v2.8M676.88,471.00v-5M676.88,282.00v5M396.00,471.00h5.3M678.50,471.00h-5.3M396.00,456.18h2.8M678.50,456.18h-2.8M396.00,447.92h2.8M678.50,447.92h-2.8M396.00,442.06h2.8M678.50,442.06h-2.8M396.00,437.52h2.8M678.50,437.52h-2.8M396.00,433.80h2.8M678.50,433.80h-2.8M396.00,430.66h2.8M678.50,430.66h-2.8M396.00,427.95h2.8M678.50,427.95h-2.8M396.00,425.55h2.8M678.50,425.55h-2.8M396.00,423.40h5.3M678.50,423.40h-5.3M396.00,409.28h2.8M678.50,409.28h-2.8M396.00,401.02h2.8M678.50,401.02h-2.8M396.00,395.16h2.8M678.50,395.16h-2.8M396.00,390.62h2.8M678.50,390.62h-2.8M396.00,386.90h2.8M678.50,386.90h-2.8M396.00,383.76h2.8M678.50,383.76h-2.8M396.00,381.05h2.8M678.50,381.05h-2.8M396.00,378.65h2.8M678.50,378.65h-2.8M396.00,376.50h5.3M678.50,376.50h-5.3M396.00,362.38h2.8M678.50,362.38h-2.8M396.00,354.12h2.8M678.50,354.12h-2.8M396.00,348.26h2.8M678.50,348.26h-2.8M396.00,343.72h2.8M678.50,343.72h-2.8M396.00,340.00h2.8M678.50,340.00h-2.8M396.00,336.86h2.8M678.50,336.86h-2.8M396.00,334.15h2.8M678.50,334.15h-2.8M396.00,331.75h2.8M678.50,331.75h-2.8M396.00,329.60h5.3M678.50,329.60h-5.3M396.00,315.48h2.8M678.50,315.48h-2.8M396.00,307.22h2.8M678.50,307.22h-2.8M396.00,301.36h2.8M678.50,301.36h-2.8M396.00,296.82h2.8M678.50,296.82h-2.8M396.00,293.10h2.8M678.50,293.10h-2.8M396.00,289.96h2.8M678.50,289.96h-2.8M396.00,287.25h2.8M678.50,287.25h-2.8M396.00,284.85h2.8M678.50,284.85h-2.8M396.00,282.70h5.3M678.50,282.70h-5.3" stroke="#222" stroke-width="0.9" fill="none"/>
<rect x="396.0" y="282.0" width="282.50" height="189.00" stroke="#3a3a3a" stroke-width="1.2" fill="none"/>
<text transform="translate(396.60,482.30) scale(1,1.25)" text-anchor="middle" font-size="8.1">0.00</text>
<text transform="translate(443.33,482.30) scale(1,1.25)" text-anchor="middle" font-size="8.1">0.05</text>
<text transform="translate(490.06,482.30) scale(1,1.25)" text-anchor="middle" font-size="8.1">0.10</text>
<text transform="translate(536.79,482.30) scale(1,1.25)" text-anchor="middle" font-size="8.1">0.15</text>
<text transform="translate(583.52,482.30) scale(1,1.25)" text-anchor="middle" font-size="8.1">0.20</text>
<text transform="translate(630.25,482.30) scale(1,1.25)" text-anchor="middle" font-size="8.1">0.25</text>
<text transform="translate(676.98,482.30) scale(1,1.25)" text-anchor="middle" font-size="8.1">0.30</text>
<text transform="translate(536.75,499.00) scale(1,1.09)" text-anchor="middle" font-size="8.1">Crack density</text>
<text transform="translate(377.10,287.50) scale(1,1.13)" font-size="8.1">10<tspan font-size="5.6" dy="-3.9">-1</tspan></text>
<text transform="translate(377.10,334.00) scale(1,1.13)" font-size="8.1">10<tspan font-size="5.6" dy="-3.9">-2</tspan></text>
<text transform="translate(377.10,380.80) scale(1,1.13)" font-size="8.1">10<tspan font-size="5.6" dy="-3.9">-3</tspan></text>
<text transform="translate(377.10,427.60) scale(1,1.13)" font-size="8.1">10<tspan font-size="5.6" dy="-3.9">-4</tspan></text>
<text transform="translate(377.10,474.50) scale(1,1.13)" font-size="8.1">10<tspan font-size="5.6" dy="-3.9">-5</tspan></text>
<text transform="translate(358.40,376.50) rotate(-90) scale(1.04,1)" text-anchor="middle" font-size="8.1">Aspect ratio</text>
<g><text transform="translate(0.6,17.7) scale(1,1.07)" font-size="17.3" fill="#1a1a1a">(a)</text>
<text transform="translate(27.7,17.7) scale(1,1.07)" font-size="17.3" font-style="italic" fill="#1a1a1a">V</text>
<text transform="translate(40.2,19.5) scale(1,1.07)" font-size="12.8" font-style="italic" fill="#1a1a1a">P</text>
<text transform="translate(49.3,11.9) scale(1,1.07)" font-size="12.8" font-style="italic" fill="#1a1a1a">calc</text>
<text transform="translate(70.6,17.7) scale(1,1.07)" font-size="17.3" fill="#1a1a1a">/</text>
<text transform="translate(76.3,17.7) scale(1,1.07)" font-size="17.3" fill="#1a1a1a">V</text>
<text transform="translate(87.6,19.5) scale(1,1.07)" font-size="12.8" font-style="italic" fill="#1a1a1a">P,ref</text>
<text transform="translate(114.6,11.9) scale(1,1.07)" font-size="12.8" font-style="italic" fill="#1a1a1a">calc</text>
<text transform="translate(350.8,17.7) scale(1,1.07)" font-size="17.3" fill="#1a1a1a">(b)</text>
<text transform="translate(377.8,17.7) scale(1,1.07)" font-size="17.3" font-style="italic" fill="#1a1a1a">V</text>
<text transform="translate(389.4,19.5) scale(1,1.07)" font-size="12.8" font-style="italic" fill="#1a1a1a">S</text>
<text transform="translate(398.6,11.9) scale(1,1.07)" font-size="12.8" font-style="italic" fill="#1a1a1a">calc</text>
<text transform="translate(419.9,17.7) scale(1,1.07)" font-size="17.3" fill="#1a1a1a">/</text>
<text transform="translate(426.0,17.7) scale(1,1.07)" font-size="17.3" fill="#1a1a1a">V</text>
<text transform="translate(436.9,19.5) scale(1,1.07)" font-size="12.8" font-style="italic" fill="#1a1a1a">S,ref</text>
<text transform="translate(465.4,11.9) scale(1,1.07)" font-size="12.8" font-style="italic" fill="#1a1a1a">calc</text>
<text transform="translate(0.6,271.8) scale(1,1.04)" font-size="17.3" textLength="178.2" lengthAdjust="spacingAndGlyphs" fill="#1a1a1a">(c) log<tspan font-style="italic">S</tspan>, Pc = 0.1 MPa</text>
<text transform="translate(350.5,271.8) scale(1,1.04)" font-size="17.3" textLength="183.5" lengthAdjust="spacingAndGlyphs" fill="#1a1a1a">(d) log<tspan font-style="italic">S</tspan>, Pc = 100 MPa</text>
</g>
</svg>
</body></html>
